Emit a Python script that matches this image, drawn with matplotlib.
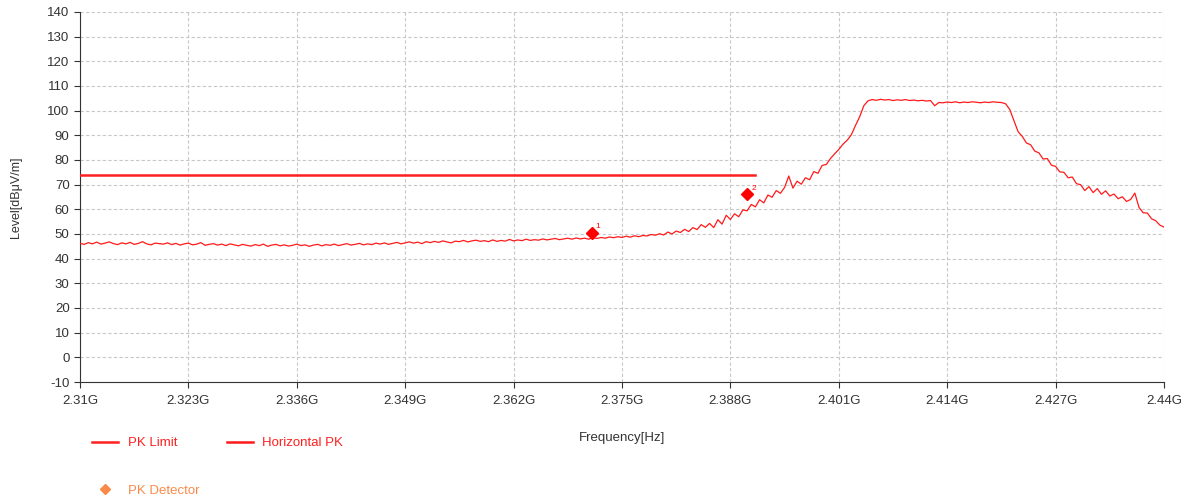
import numpy as np
from matplotlib import pyplot as plt
from matplotlib.ticker import FuncFormatter, MultipleLocator

plt.rcParams['font.family'] = ['Liberation Sans', 'DejaVu Sans']
plt.rcParams['axes.unicode_minus'] = False

# sweep 2.31 GHz .. 2.44 GHz, 0.5 MHz per point (levels, dBuV/m)
f_start = 2.31e9
f_stop = 2.44e9
level = [
    46.2, 45.8, 46.5, 46.0, 46.7, 45.9, 46.3, 46.8, 46.1, 45.7, 46.4, 46.0, 46.6, 45.8, 46.2, 46.9, 46.0, 45.6, 46.3, 46.1,
    45.9, 46.4, 45.7, 46.2, 45.5, 46.0, 46.3, 45.6, 45.9, 46.5, 45.4, 45.8, 46.1, 45.5, 45.9, 45.3, 46.0, 45.6, 45.2, 45.8,
    45.4, 45.1, 45.7, 45.3, 45.9, 45.0, 45.5, 45.8, 45.2, 45.6, 45.1, 45.4, 45.9, 45.3, 45.6, 45.0, 45.5, 45.8, 45.2, 45.7,
    45.4, 45.9, 45.3, 45.7, 46.1, 45.5, 45.8, 46.2, 45.6, 46.0, 45.7, 46.3, 45.9, 46.4, 45.8, 46.2, 46.6, 46.0, 46.4, 46.8,
    46.3, 46.7, 46.1, 46.9, 46.5, 47.0, 46.6, 47.2, 46.8, 46.4, 47.1, 46.9, 47.4, 46.8, 47.2, 47.5, 47.0, 47.3, 46.9, 47.6,
    47.0, 47.4, 47.1, 47.8, 47.2, 47.6, 47.3, 47.9, 47.4, 47.7, 47.5, 48.0, 47.6, 47.9, 48.2, 47.7, 48.0, 48.3, 47.9, 48.4,
    48.0, 48.3, 47.9, 48.5, 48.2, 48.6, 48.3, 48.8, 48.5, 48.9, 48.6, 49.1, 48.7, 49.3, 48.9, 49.4, 49.2, 49.8, 49.5, 50.1,
    49.6, 50.8, 50.0, 51.2, 50.6, 51.9, 51.0, 52.6, 51.8, 53.8, 52.7, 54.3, 52.6, 55.8, 54.0, 57.6, 55.9, 58.2, 57.0, 59.8,
    59.4, 62.0, 61.0, 63.9, 62.6, 65.8, 64.9, 67.6, 66.5, 68.9, 73.5, 68.6, 71.4, 70.2, 72.8, 72.0, 75.3, 74.6, 77.8, 78.2,
    80.6, 82.5, 84.3, 86.4, 88.0, 90.2, 94.0, 97.5, 102.0, 104.0, 104.5, 104.2, 104.6, 104.3, 104.5, 104.1, 104.4, 104.2, 104.5, 104.1,
    104.3, 104.0, 104.2, 103.9, 104.1, 102.0, 103.3, 103.2, 103.5, 103.3, 103.6, 103.2, 103.5, 103.3, 103.6, 103.4, 103.2, 103.5, 103.3, 103.6,
    103.4, 103.3, 102.8, 100.5, 96.0, 91.5, 89.6, 86.9, 86.2, 83.6, 82.9, 80.4, 80.6, 77.9, 77.4, 75.2, 75.0, 72.8, 73.1, 70.4,
    70.0, 67.6, 69.2, 66.8, 68.4, 66.1, 67.5, 65.4, 66.2, 64.3, 65.1, 63.2, 64.0, 66.6, 60.8, 58.6, 58.5, 56.2, 55.4, 53.6, 52.8,
]

limit_freq = [2.31e9, 2.3909e9]
limit_level = [74, 74]

det_freq = [2.37135e9, 2.39e9]
det_level = [50.6, 66.1]
det_names = ["1", "2"]

x_ticks = [2.31, 2.323, 2.336, 2.349, 2.362, 2.375, 2.388, 2.401, 2.414, 2.427, 2.44]

freq = np.linspace(f_start, f_stop, len(level))

fig = plt.figure(figsize=(11.9, 5.01), dpi=100)
ax = fig.add_axes([80 / 1190, 1 - 382 / 501, (1164 - 80) / 1190, (382 - 12) / 501])

ax.plot(limit_freq, limit_level, color="#ff2020", lw=1.8, label="PK Limit", zorder=3)
ax.plot(freq, level, color="#ff1a1a", lw=0.9, label="Horizontal PK", zorder=4)
ax.plot(det_freq, det_level, "D", color="#ff0000", ms=6, ls="none", zorder=5)
for f, l, n in zip(det_freq, det_level, det_names):
    ax.annotate(n, (f, l), xytext=(3, 3), textcoords="offset points",
                fontsize=6, color="#ff0000")

ax.set_xlim(f_start, f_stop)
ax.set_ylim(-10, 140)
ax.set_xticks([t * 1e9 for t in x_ticks])
ax.xaxis.set_major_formatter(FuncFormatter(lambda v, p: f"{round(v / 1e9, 3):g}G"))
ax.yaxis.set_major_locator(MultipleLocator(10))

ax.grid(True, color="#c8c8c8", ls=(0, (3, 2)), lw=0.8)
ax.set_axisbelow(True)
for s in ["top", "right"]:
    ax.spines[s].set_visible(False)
for s in ["left", "bottom"]:
    ax.spines[s].set_color("#333333")
ax.tick_params(colors="#333333", labelsize=9.5, length=4, width=0.8)
ax.tick_params(axis="x", pad=5)

ax.set_xlabel("Frequency[Hz]", fontsize=9.5, color="#333333", labelpad=18)
ax.set_ylabel("Level[dB\u03bcV/m]", fontsize=9, color="#333333", labelpad=18)

# legend below the chart
h_lim = plt.Line2D([], [], color="#ff2020", lw=1.8)
h_pk = plt.Line2D([], [], color="#ff1a1a", lw=1.8)
h_det = plt.Line2D([], [], color="#f98a4a", marker="D", ms=5, ls="none")
fig.legend([h_lim, h_det, h_pk], ["PK Limit", "PK Detector", "Horizontal PK"],
           ncol=2, frameon=False, loc="upper left",
           bbox_to_anchor=(92 / 1190, 1 - 437 / 501),
           borderpad=0, borderaxespad=0, fontsize=9.5,
           handlelength=2.0, handletextpad=0.7, columnspacing=2.1,
           labelspacing=2.7,
           labelcolor=["#ff2020", "#f98a4a", "#ff2020"])

fig.savefig("out.png", dpi=100)
